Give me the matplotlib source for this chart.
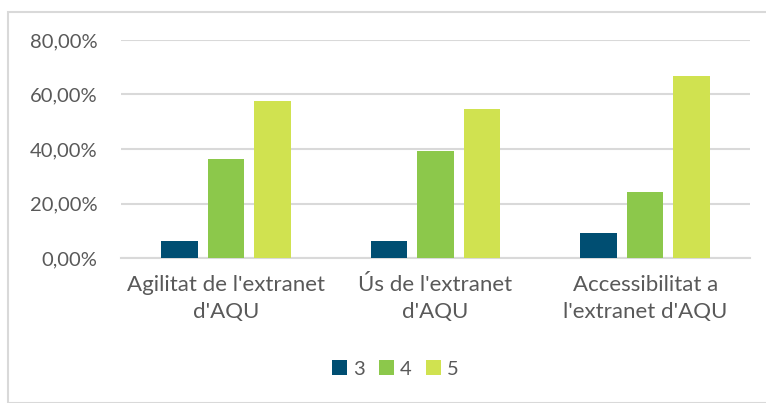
import matplotlib
matplotlib.use("Agg")
import matplotlib.pyplot as plt
from matplotlib.patches import Rectangle
import numpy as np

categories = ["Agilitat de l'extranet\nd'AQU", "Ús de l'extranet\nd'AQU", "Accessibilitat a\nl'extranet d'AQU"]
series_names = ["3", "4", "5"]
vals_3 = [6.06, 6.06, 9.09]
vals_4 = [36.36, 39.39, 24.24]
vals_5 = [57.58, 54.55, 66.67]
colors = ["#004E72", "#8CC84B", "#D0E250"]
yticks = [0, 20, 40, 60, 80]
ytick_labels = ["0,00%", "20,00%", "40,00%", "60,00%", "80,00%"]

plt.rcParams['font.family'] = ['Lato', 'DejaVu Sans']
W, H = 766, 403
fig = plt.figure(figsize=(W/100, H/100), dpi=100)
fig.patches.append(Rectangle((8/W, 0), 1.2, 1 - 12/H, transform=fig.transFigure,
                             fill=False, edgecolor="#D9D9D9", linewidth=1.5, zorder=0))
ax = fig.add_axes([121/W, 1 - 258/H, (750-121)/W, (258-40)/H])

x = np.arange(len(categories))
bw = 0.174
off = 0.222
for i, (vals, name) in enumerate(zip([vals_3, vals_4, vals_5], series_names)):
    ax.bar(x + (i-1)*off, vals, width=bw, color=colors[i], label=name, zorder=3)

ax.set_xlim(-0.5, 2.5)
ax.set_ylim(0, 80)
ax.set_yticks(yticks)
ax.set_yticklabels(ytick_labels)
ax.set_xticks(x)
ax.set_xticklabels(categories)
ax.grid(axis='y', color="#D9D9D9", linewidth=1.5, zorder=0)
ax.set_axisbelow(True)
for s in ['top', 'right', 'left']:
    ax.spines[s].set_visible(False)
ax.spines['bottom'].set_color("#D9D9D9")
ax.spines['bottom'].set_linewidth(1.5)
ax.tick_params(axis='both', length=0, colors="#595959")
ax.tick_params(axis='y', pad=17, labelsize=14.5)
ax.tick_params(axis='x', pad=12, labelsize=16)
for t in ax.get_xticklabels():
    t.set_linespacing(1.45)

leg = fig.legend(loc='center', bbox_to_anchor=(395/W, 1 - 369/H), ncol=3, frameon=False,
                 fontsize=14.5, handlelength=0.75, handleheight=0.75, handletextpad=0.3,
                 columnspacing=0.7, labelcolor="#595959")

fig.savefig("out.png", dpi=100)
